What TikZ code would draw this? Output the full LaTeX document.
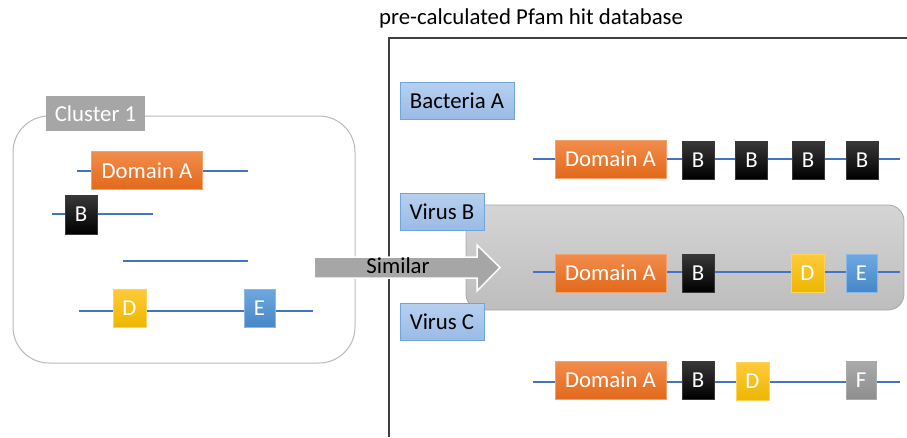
\documentclass[tikz,border=0pt]{standalone}
\usepackage{fontspec}
\setmainfont{Carlito}
\definecolor{linecol}{HTML}{4472C4}
\definecolor{orT}{HTML}{F28D4C}
\definecolor{orB}{HTML}{E2691B}
\definecolor{orD}{HTML}{F3A26E}
\definecolor{blkT}{HTML}{383838}
\definecolor{blkB}{HTML}{000000}
\definecolor{yeT}{HTML}{FFCA3A}
\definecolor{yeB}{HTML}{ECB700}
\definecolor{yeD}{HTML}{FFD45A}
\definecolor{buT}{HTML}{6EA8E0}
\definecolor{buB}{HTML}{4787C7}
\definecolor{buD}{HTML}{8AB8E6}
\definecolor{lbT}{HTML}{B6D0EF}
\definecolor{lbB}{HTML}{9ABBE6}
\definecolor{lbD}{HTML}{6FA5DE}
\definecolor{grT}{HTML}{AAAAAA}
\definecolor{grB}{HTML}{8E8E8E}
\definecolor{clgray}{HTML}{A6A6A6}
\definecolor{boxT}{HTML}{D5D5D5}
\definecolor{boxB}{HTML}{BDBDBD}
\definecolor{frame}{HTML}{3F3F3F}
\tikzset{
  x=1pt, y=-1pt,
  txt/.style={font=\fontsize{22.8}{25}\selectfont},
  gene/.style={txt, inner sep=0pt, text=white, line width=0.6pt, minimum height=38pt},
  dom/.style={gene, minimum width=111pt, top color=orT, bottom color=orB, draw=orD},
  bbox/.style={gene, minimum width=32pt, top color=blkT, bottom color=blkB, draw=blkT},
  dbox/.style={gene, minimum width=33pt, top color=yeT, bottom color=yeB, draw=yeD},
  ebox/.style={gene, minimum width=31pt, top color=buT, bottom color=buB, draw=buD},
  fbox/.style={gene, minimum width=30pt, top color=grT, bottom color=grB, draw=grT},
  orgbox/.style={txt, inner sep=0pt, text=black, line width=0.8pt, minimum height=37pt, top color=lbT, bottom color=lbB, draw=lbD},
  prot/.style={draw=linecol, line width=1.5pt},
  simarrow/.style={fill=clgray, draw=white, line width=1.5pt, line join=miter},
}
\begin{document}
\begin{tikzpicture}
\useasboundingbox (0,0) rectangle (907,437);

% ---------------- left: Cluster 1 ----------------
\draw[clgray!80, line width=1pt, rounded corners=36pt] (13,116) rectangle (355,363);
\node[txt, fill=clgray, text=white, inner sep=0pt, minimum width=99pt, minimum height=35pt] (cl) at (95.5,113.5) {Cluster 1};

\coordinate (l1a) at (77,171);  \coordinate (l1b) at (248,171);
\coordinate (l2a) at (52,214);  \coordinate (l2b) at (153,214);
\coordinate (l3a) at (123,261); \coordinate (l3b) at (248,261);
\coordinate (l4a) at (79,311);  \coordinate (l4b) at (313,311);
\draw[prot] (l1a) -- (l1b);
\draw[prot] (l2a) -- (l2b);
\draw[prot] (l3a) -- (l3b);
\draw[prot] (l4a) -- (l4b);
\node[dom] (cA) at (147,170.5) {Domain A};
\node[bbox, minimum height=39pt] (cB) at (81,214.5) {B};
\node[dbox] (cD) at (129.5,308) {D};
\node[ebox] (cE) at (259.5,308) {E};

% ---------------- right: database ----------------
\node[txt, anchor=west, inner sep=0pt] (title) at (379,18) {pre-calculated Pfam hit database};
\coordinate (fb) at (389,437); \coordinate (fc) at (389,38); \coordinate (fr) at (907,38);
\draw[frame, line width=1.2pt] (fb) -- (fc) -- (fr);

% highlighted row box
\draw[clgray, line width=0.8pt, rounded corners=16pt, top color=boxT, bottom color=boxB] (466,205) rectangle (904,310);

\node[orgbox, minimum width=114pt] (bacA) at (457,101) {Bacteria A};
\node[orgbox, minimum width=84pt] (virB) at (442,211.5) {Virus B};
\node[orgbox, minimum width=84pt] (virC) at (442,322) {Virus C};

% row 1
\coordinate (r1a) at (533,159); \coordinate (r1b) at (900,159);
\draw[prot] (r1a) -- (r1b);
\node[dom] (a1) at (610.5,159) {Domain A};
\node[bbox] (b11) at (698,160) {B};
\node[bbox] (b12) at (751.5,160) {B};
\node[bbox] (b13) at (808,160) {B};
\node[bbox] (b14) at (862,160) {B};

% row 2
\coordinate (r2a) at (533,272); \coordinate (r2b) at (900,272);
\draw[prot] (r2a) -- (r2b);
\node[dom] (a2) at (610.5,273) {Domain A};
\node[bbox] (b2) at (698,273) {B};
\node[dbox] (d2) at (807.5,273) {D};
\node[ebox] (e2) at (861.5,273) {E};

% row 3
\coordinate (r3a) at (533,382); \coordinate (r3b) at (900,382);
\draw[prot] (r3a) -- (r3b);
\node[dom] (a3) at (610.5,380) {Domain A};
\node[bbox] (b3) at (698,380) {B};
\node[dbox] (d3) at (752.5,381.5) {D};
\node[fbox] (f3) at (861,380) {F};

% ---------------- Similar arrow ----------------
\path[simarrow] (314,257) -- (477,257) -- (477,245) -- (500,267.5) -- (477,291) -- (477,278) -- (314,278) -- cycle;
\node[txt, text=black, inner sep=0pt] (sim) at (398,266) {Similar};
\end{tikzpicture}
\end{document}
